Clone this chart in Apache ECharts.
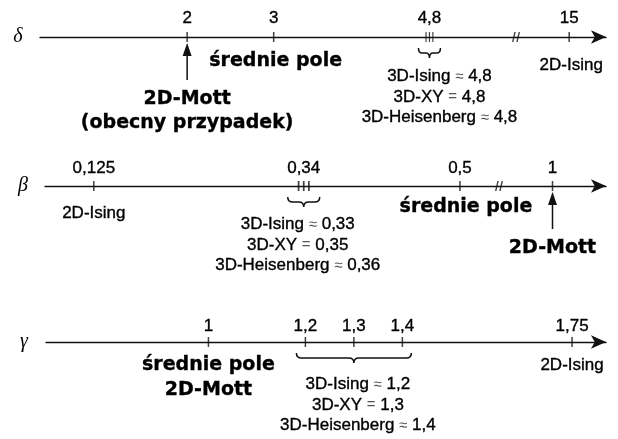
<!DOCTYPE html>
<html>
<head>
<meta charset="utf-8">
<script src="https://cdn.jsdelivr.net/npm/echarts@6/dist/echarts.min.js"></script>
<style>
  html, body { margin: 0; padding: 0; background: #fff; }
  #chart { width: 618px; height: 439px; }
</style>
</head>
<body>
<div id="chart"></div>
<script>
// Critical exponents δ, β, γ on three number lines
const exponentSymbols = ['δ', 'β', 'γ'];
const models3D = ['3D-Ising', '3D-XY', '3D-Heisenberg'];
const relation3D = ['≈', '=', '≈'];
const delta3D = [4.8, 4.8, 4.8];
const beta3D = [0.33, 0.35, 0.36];
const gamma3D = [1.2, 1.3, 1.4];
const meanField = [3, 0.5, 1];       // δ, β, γ
const mott2D = [2, 1, 1];            // δ, β, γ
const ising2D = [15, 0.125, 1.75];   // δ, β, γ
const clusterTick = [4.8, 0.34];     // grouped 3D ticks on the δ and β lines
const meanFieldLabel = 'średnie pole';
const mottLabel = '2D-Mott';
const mottNote = '(obecny przypadek)';
const isingLabel = '2D-Ising';

// Value ranges of the axis segments; a gap between segments is a scale break
const deltaSegments = [[0.3, 5.8], [14.35, 15.45]];
const betaSegments = [[0.075, 0.54], [0.89, 1.11]];
const gammaSegments = [[0.665, 1.82]];

const INK = '#111';
const TEXT_INK = '#000';
const SANS = '"Liberation Sans", Arial, Helvetica, sans-serif';
const SANS_BOLD = '"DejaVu Sans", "Liberation Sans", sans-serif';
const SERIF = '"Liberation Serif", "DejaVu Serif", serif';
const fmt = v => String(v).replace('.', ',');

// pixel placement of every axis segment
const segments = [
  { row: 0, range: deltaSegments[0], span: [40, 516], y: 37, arrow: false },
  { row: 0, range: deltaSegments[1], span: [516, 606], y: 37, arrow: true },
  { row: 1, range: betaSegments[0], span: [45, 499], y: 186, arrow: false },
  { row: 1, range: betaSegments[1], span: [499, 606], y: 186, arrow: true },
  { row: 2, range: gammaSegments[0], span: [46, 606], y: 342, arrow: true }
];

function segIndex(row, v) {
  for (let i = 0; i < segments.length; i++) {
    const s = segments[i];
    if (s.row === row && v >= s.range[0] && v <= s.range[1]) return i;
  }
  return -1;
}

const grid = segments.map(s => ({
  left: s.span[0], width: s.span[1] - s.span[0], top: s.y - 20, height: 40,
  containLabel: false, outerBoundsMode: 'none'
}));
const xAxis = segments.map((s, i) => ({
  type: 'value', gridIndex: i, min: s.range[0], max: s.range[1],
  axisLine: {
    show: true, onZero: true,
    lineStyle: { color: INK, width: 1.4 },
    symbol: s.arrow ? ['none', 'arrow'] : ['none', 'none'],
    symbolSize: [10, 15]
  },
  axisTick: { show: false }, axisLabel: { show: false }, splitLine: { show: false }
}));
const yAxis = segments.map((s, i) => ({ type: 'value', gridIndex: i, min: -1, max: 1, show: false }));

const series = [];
const HIDDEN = 'rgba(0,0,0,0)';

// one point on a line with an optional symbol and label
function mark(row, v, symbol, symbolSize, label) {
  const i = segIndex(row, v);
  const visible = !!symbol;
  series.push({
    type: 'scatter', xAxisIndex: i, yAxisIndex: i, clip: false, silent: true, z: 5,
    symbol: symbol || 'circle', symbolSize: visible ? symbolSize : 1,
    itemStyle: { color: visible ? INK : HIDDEN },
    label: label ? Object.assign({
      show: true, position: 'inside', color: TEXT_INK, fontFamily: SANS,
      textBorderColor: TEXT_INK, textBorderWidth: 0.35, opacity: 1
    }, label) : { show: false },
    data: [[v, 0]]
  });
}

const TICK = 'rect';
const TICK_SIZE = [1.5, 10];
const CLUSTER = 'path://M0,0h1v10h-1zM3,0h1v10h-1zM6,0h1v10h-1z';
const BREAK = 'path://M1,10L3,0h1.2L2.2,10zM4.6,10L6.6,0h1.2L5.8,10z';

function numberLabel(v, dy) {
  return { formatter: fmt(v), fontSize: 17, offset: [0, dy] };
}
function textLabel(text, dx, dy, bold, lh) {
  return {
    formatter: text, fontSize: bold ? 19 : 17, fontWeight: bold ? 'bold' : 'normal',
    fontFamily: bold ? SANS_BOLD : SANS,
    lineHeight: lh || 20, align: 'center', offset: [dx, dy]
  };
}
function blockLabel(values, dx, dy) {
  const lines = models3D.map((m, k) => m + ' {r|' + relation3D[k] + '} ' + fmt(values[k]));
  return {
    formatter: lines.join('\n'), fontSize: 17, lineHeight: 20.5, align: 'center', offset: [dx, dy],
    rich: { r: { fontSize: 15, color: '#555', textBorderWidth: 0, fontFamily: SANS } }
  };
}

// curly brace under a group of values
function brace(row, from, to, pad) {
  const i = segIndex(row, from);
  series.push({
    type: 'custom', xAxisIndex: i, yAxisIndex: i, clip: false, silent: true, z: 5,
    data: [[from, to]],
    renderItem: (p, api) => {
      const a = api.coord([api.value(0), 0]);
      const b = api.coord([api.value(1), 0]);
      const L = a[0] - pad, R = b[0] + pad, C = (L + R) / 2;
      const T = a[1] + 11, H = 10, M = T + H / 2;
      const r = Math.min(5, (C - L) / 3);
      const d = 'M' + L + ',' + T + 'Q' + L + ',' + M + ' ' + (L + r) + ',' + M +
        'L' + (C - r) + ',' + M + 'Q' + C + ',' + M + ' ' + C + ',' + (T + H) +
        'Q' + C + ',' + M + ' ' + (C + r) + ',' + M +
        'L' + (R - r) + ',' + M + 'Q' + R + ',' + M + ' ' + R + ',' + T;
      return { type: 'path', shape: { pathData: d }, style: { fill: 'none', stroke: INK, lineWidth: 1.5 } };
    }
  });
}

// upward arrow pointing at a value from below the line
function upArrow(row, v) {
  const i = segIndex(row, v);
  series.push({
    type: 'custom', xAxisIndex: i, yAxisIndex: i, clip: false, silent: true, z: 5,
    data: [[v, 0]],
    renderItem: (p, api) => {
      const c = api.coord([api.value(0), api.value(1)]);
      const x = c[0], y = c[1];
      return {
        type: 'group', children: [
          { type: 'line', shape: { x1: x, y1: y + 43, x2: x, y2: y + 16 }, style: { stroke: INK, lineWidth: 1.5 } },
          { type: 'polygon', shape: { points: [[x, y + 6], [x - 4.5, y + 19], [x + 4.5, y + 19]] }, style: { fill: INK } }
        ]
      };
    }
  });
}

// exponent symbols at the start of each line
[deltaSegments, betaSegments, gammaSegments].forEach((segs, row) => {
  mark(row, segs[0][0], null, 0, {
    formatter: exponentSymbols[row], fontFamily: SERIF, fontStyle: 'italic', fontSize: 20,
    textBorderWidth: 0, offset: [-22, 0]
  });
  if (segs.length > 1) mark(row, segs[0][1], BREAK, [8, 10], null);
});

// δ line
mark(0, mott2D[0], TICK, TICK_SIZE, numberLabel(mott2D[0], -19));
mark(0, meanField[0], TICK, TICK_SIZE, numberLabel(meanField[0], -19));
mark(0, ising2D[0], TICK, TICK_SIZE, numberLabel(ising2D[0], -19));
mark(0, clusterTick[0], CLUSTER, [8, 10], numberLabel(clusterTick[0], -19));
mark(0, meanField[0], null, 0, textLabel(meanFieldLabel, 2, 24, true));
upArrow(0, mott2D[0]);
mark(0, mott2D[0], null, 0, textLabel(mottLabel + '\n' + mottNote, 0, 74, true, 24));
mark(0, ising2D[0], null, 0, textLabel(isingLabel, 2, 28, false));
brace(0, delta3D[0], delta3D[2], 11);
mark(0, delta3D[0], null, 0, blockLabel(delta3D, 10, 60));

// β line
mark(1, ising2D[1], TICK, TICK_SIZE, numberLabel(ising2D[1], -18));
mark(1, meanField[1], TICK, TICK_SIZE, numberLabel(meanField[1], -18));
mark(1, mott2D[1], TICK, TICK_SIZE, numberLabel(mott2D[1], -18));
mark(1, clusterTick[1], CLUSTER, [12, 10], numberLabel(clusterTick[1], -18));
mark(1, ising2D[1], null, 0, textLabel(isingLabel, 0, 27, false));
brace(1, clusterTick[1], clusterTick[1], 16);
mark(1, clusterTick[1], null, 0, blockLabel(beta3D, -6, 59));
mark(1, meanField[1], null, 0, textLabel(meanFieldLabel, 6, 21, true));
upArrow(1, mott2D[1]);
mark(1, mott2D[1], null, 0, textLabel(mottLabel, 0, 62, true));

// γ line
mark(2, meanField[2], TICK, TICK_SIZE, numberLabel(meanField[2], -16));
gamma3D.forEach(v => mark(2, v, TICK, TICK_SIZE, numberLabel(v, -16)));
mark(2, ising2D[2], TICK, TICK_SIZE, numberLabel(ising2D[2], -16));
mark(2, meanField[2], null, 0, textLabel(meanFieldLabel + '\n' + mottLabel, 0, 36, true, 25));
mark(2, ising2D[2], null, 0, textLabel(isingLabel, 0, 23, false));
brace(2, gamma3D[0], gamma3D[2], 9);
mark(2, gamma3D[1], null, 0, blockLabel(gamma3D, 4, 63));

const chart = echarts.init(document.getElementById('chart'), null, { renderer: 'canvas' });
chart.setOption({
  animation: false,
  backgroundColor: '#fff',
  textStyle: { fontFamily: SANS, color: TEXT_INK },
  grid: grid,
  xAxis: xAxis,
  yAxis: yAxis,
  series: series
});
</script>
</body>
</html>
